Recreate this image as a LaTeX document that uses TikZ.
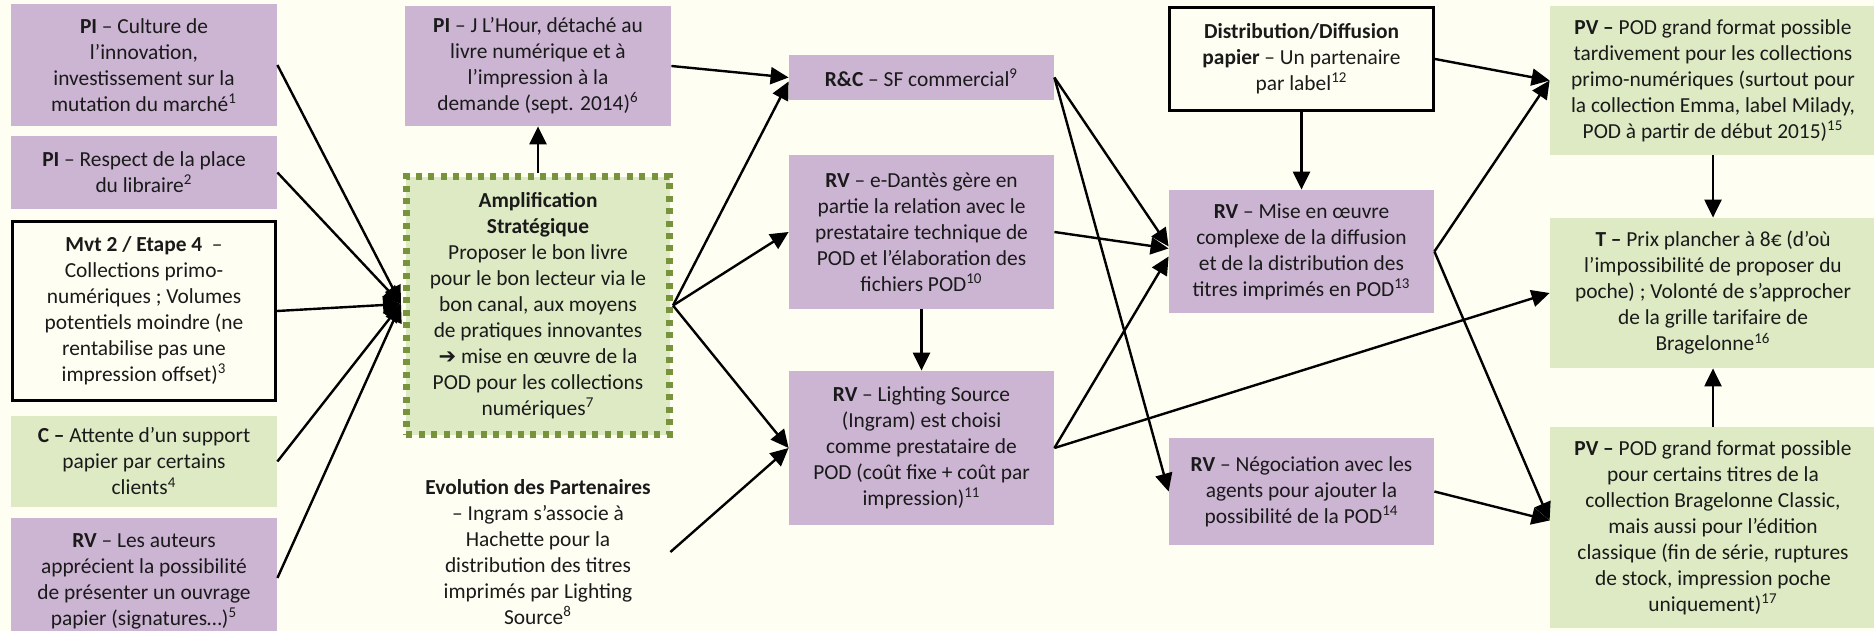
\documentclass[tikz,border=0pt]{standalone}
\usepackage{fontspec}
\setmainfont{Carlito}
\newfontfamily\dejavu{DejaVu Sans}
\usetikzlibrary{arrows.meta,calc}
\definecolor{bgc}{HTML}{FEFEF2}
\definecolor{purp}{HTML}{CCB4D3}
\definecolor{grn}{HTML}{DDEAC4}
\definecolor{olive}{HTML}{77933C}
\definecolor{txt}{HTML}{1A1A1A}
\begin{document}
\begin{tikzpicture}[x=0.5pt,y=-0.5pt,
  font=\fontsize{10.7}{13}\selectfont, text=txt,
  box/.style={inner sep=0pt, align=center, anchor=center},
  pbox/.style={box, fill=purp},
  gbox/.style={box, fill=grn},
  wbox/.style={box, draw=black, line width=1.5pt, fill=bgc},
  ampbox/.style={box, fill=grn, draw=olive, line width=3.4pt, dash pattern=on 3pt off 3.2pt},
  arr/.style={draw=black, line width=1.2pt, -{Triangle[length=9pt,width=8.5pt]}}]
\fill[bgc] (0,0) rectangle (1874,631);
\useasboundingbox (0,0) rectangle (1874,631);
\clip (0,0) rectangle (1874,631);

% left column
\node[pbox, minimum width=133pt, minimum height=61pt] (PIa) at (144,65)
  {\textbf{PI} – Culture de\\ l’innovation,\\ investissement sur la\\ mutation du marché\textsuperscript{1}};
\node[pbox, minimum width=133pt, minimum height=36.5pt] (PIb) at (144,172.5)
  {\textbf{PI} – Respect de la place\\ du libraire\textsuperscript{2}};
\node[wbox, minimum width=131.5pt, minimum height=89.5pt] (Mvt) at (144,311)
  {\textbf{Mvt 2 / Etape 4}~ –\\ Collections primo-\\ numériques ; Volumes\\ potentiels moindre (ne\\ rentabilise pas une\\ impression offset)\textsuperscript{3}};
\node[gbox, minimum width=133pt, minimum height=45.5pt] (C) at (144,461.5)
  {\textbf{C –} Attente d’un support\\ papier par certains\\ clients\textsuperscript{4}};
\node[pbox, minimum width=133pt, minimum height=63pt] (RVa) at (144,581)
  {\textbf{RV} – Les auteurs\\ apprécient la possibilité\\ de présenter un ouvrage\\ papier (signatures…)\textsuperscript{5}};

% second column
\node[pbox, minimum width=133pt, minimum height=60pt] (PIL) at (538,66)
  {\textbf{PI} – J L’Hour, détaché au\\ livre numérique et à\\ l’impression à la\\ demande (sept. 2014)\textsuperscript{6}};
\node[ampbox, minimum width=131.6pt, minimum height=129pt] (Amp) at (538,305.5)
  {\textbf{Amplification}\\ \textbf{Stratégique}\\ Proposer le bon livre\\ pour le bon lecteur via le\\ bon canal, aux moyens\\ de pratiques innovantes\\ {\dejavu\fontsize{10.5}{13}\selectfont ➔} mise en œuvre de la\\ POD pour les collections\\ numériques\textsuperscript{7}};
\node[box, minimum width=132pt] (Evo) at (538,552)
  {\textbf{Evolution des Partenaires}\\ – Ingram s’associe à\\ Hachette pour la\\ distribution des titres\\ imprimés par Lighting\\ Source\textsuperscript{8}};
\coordinate (conv) at (401,304);

% third column
\node[pbox, minimum width=132.5pt, minimum height=22.5pt] (RC) at (921.5,77.5)
  {\textbf{R\&C} – SF commercial\textsuperscript{9}};
\node[pbox, minimum width=132.5pt, minimum height=77pt] (eD) at (921.5,232)
  {\textbf{RV} – e-Dantès gère en\\ partie la relation avec le\\ prestataire technique de\\ POD et l’élaboration des\\ fichiers POD\textsuperscript{10}};
\node[pbox, minimum width=132.5pt, minimum height=77pt] (LS) at (921.5,448)
  {\textbf{RV} – Lighting Source\\ (Ingram) est choisi\\ comme prestataire de\\ POD (coût fixe + coût par\\ impression)\textsuperscript{11}};

% fourth column
\node[wbox, minimum width=132pt, minimum height=51.5pt] (Dist) at (1301.5,59)
  {\textbf{Distribution/Diffusion}\\ \textbf{papier} – Un partenaire\\ par label\textsuperscript{12}};
\node[pbox, minimum width=132.5pt, minimum height=61.5pt] (Mise) at (1301.5,251.5)
  {\textbf{RV} – Mise en œuvre\\ complexe de la diffusion\\ et de la distribution des\\ titres imprimés en POD\textsuperscript{13}};
\node[pbox, minimum width=132.5pt, minimum height=53.5pt] (Nego) at (1301.5,491.5)
  {\textbf{RV} – Négociation avec les\\ agents pour ajouter la\\ possibilité de la POD\textsuperscript{14}};

% right column
\node[gbox, minimum width=163pt, minimum height=74.5pt] (PVa) at (1713,80.5)
  {\textbf{PV –} POD grand format possible\\ tardivement pour les collections\\ primo-numériques (surtout pour\\ la collection Emma, label Milady,\\ POD à partir de début 2015)\textsuperscript{15}};
\node[gbox, minimum width=163pt, minimum height=75pt] (T) at (1713,293)
  {\textbf{T –} Prix plancher à 8€ (d’où\\ l’impossibilité de proposer du\\ poche) ; Volonté de s’approcher\\ de la grille tarifaire de\\ Bragelonne\textsuperscript{16}};
\node[gbox, minimum width=163pt, minimum height=100.5pt] (PVb) at (1713,527.5)
  {\textbf{PV –} POD grand format possible\\ pour certains titres de la\\ collection Bragelonne Classic,\\ mais aussi pour l’édition\\ classique (fin de série, ruptures\\ de stock, impression poche\\ uniquement)\textsuperscript{17}};

% connectors
\draw[arr] (PIa.east) -- (conv);
\draw[arr] (PIb.east) -- (conv);
\draw[arr] (Mvt.east) -- (conv);
\draw[arr] (C.east) -- (conv);
\draw[arr] ($(RVa.east)+(0,-3)$) -- (conv);
\draw[arr] (Amp.north) -- (PIL.south);
\draw[arr] (PIL.east) -- (RC.west);
\draw[arr] (Amp.east) -- ($(RC.west)+(0,4)$);
\draw[arr] (Amp.east) -- (eD.west);
\draw[arr] (Amp.east) -- (LS.west);
\draw[arr] (Evo.east) -- (LS.west);
\draw[arr] (eD.south) -- (LS.north);
\draw[arr] (RC.east) -- ($(Mise.west)+(0,-5)$);
\draw[arr] (RC.east) -- (Nego.west);
\draw[arr] (eD.east) -- ($(Mise.west)+(0,-3)$);
\draw[arr] (LS.east) -- ($(Mise.west)+(0,5)$);
\draw[arr] (LS.east) -- (T.west);
\draw[arr] (Dist.south) -- (Mise.north);
\draw[arr] (Dist.east) -- (PVa.west);
\draw[arr] (Mise.east) -- (PVa.west);
\draw[arr] (Mise.east) -- ($(PVb.west)+(0,-7)$);
\draw[arr] (Nego.east) -- ($(PVb.west)+(0,-7)$);
\draw[arr] (PVa.south) -- (T.north);
\draw[arr] (PVb.north) -- (T.south);
\end{tikzpicture}
\end{document}
